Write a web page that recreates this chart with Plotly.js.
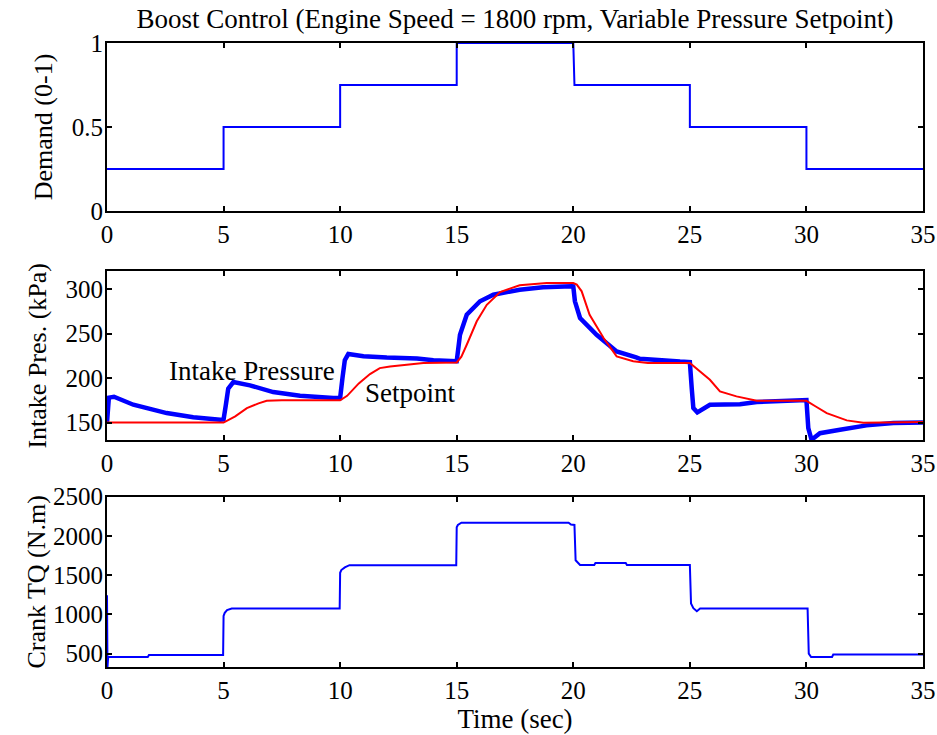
<!DOCTYPE html>
<html>
<head>
<meta charset="utf-8">
<script src="https://cdn.plot.ly/plotly-3.0.1.min.js"></script>
<style>
  html, body { margin: 0; padding: 0; background: #ffffff; }
  #chart { width: 937px; height: 735px; }
</style>
</head>
<body>
<div id="chart"></div>
<script>
// ---- Data ----
const chartTitle = "Boost Control (Engine Speed = 1800 rpm, Variable Pressure Setpoint)";
const xTicks = [0, 5, 10, 15, 20, 25, 30, 35];

// Panel 1: demand (0-1)
const demandTime  = [0, 5, 5, 10, 10, 15, 15, 20, 20.05, 25, 25, 30, 30, 35];
const demandValue = [0.25, 0.25, 0.5, 0.5, 0.75, 0.75, 1, 1, 0.75, 0.75, 0.5, 0.5, 0.25, 0.25];
const demandTicks = [0, 0.5, 1];
const demandTickText = ["0", "0.5", "1"];

// Panel 2: intake pressure (kPa)
const pressTime  = [0, 0.08, 0.3, 1.13, 2.56, 3.7, 4.85, 5.0, 5.1, 5.2, 5.42, 6.13, 7.13, 8.28, 9.71, 10.0, 10.1, 10.2, 10.35, 11.0, 12.0, 13.3, 14.0, 15.0, 15.14, 15.43, 16.0, 16.57, 17.7, 18.7, 19.93, 20.0, 20.07, 20.29, 21.0, 21.86, 22.7, 22.86, 24.58, 25.0, 25.08, 25.15, 25.32, 25.86, 27.15, 27.87, 30.0, 30.08, 30.22, 30.58, 31.44, 32.58, 33.73, 35.0];
const pressValue = [150, 178, 179, 170, 160.6, 156, 153, 153.5, 170, 188, 195.5, 191.8, 184.2, 180, 177.5, 177.5, 200, 220, 227, 224.5, 223, 222, 220, 219, 248.7, 271.2, 286.3, 293.7, 299.3, 302, 303.1, 303, 286.3, 267.5, 248.7, 230, 223.3, 221.7, 218.5, 218, 188.7, 166.2, 161.4, 170, 170.5, 173, 175.2, 143.7, 130.6, 138, 141.8, 146.8, 149.4, 150];
const setpointTime  = [0, 5.0, 5.5, 6.0, 6.5, 6.85, 7.5, 10.0, 10.3, 10.8, 11.28, 11.7, 12.14, 13.57, 15.0, 15.2, 15.43, 15.86, 16.29, 16.86, 17.7, 18.86, 20.0, 20.15, 20.36, 20.7, 21.3, 21.86, 22.57, 23.2, 25.0, 25.4, 25.86, 26.29, 27.0, 27.87, 30.0, 30.4, 30.87, 31.73, 32.44, 35.0];
const setpointValue = [150, 150, 157, 166.2, 171.5, 174.4, 175, 175, 180, 194, 204.5, 211.2, 213.1, 216.9, 217.5, 224, 237.4, 263.8, 282.4, 296.7, 304.3, 306.8, 306.8, 305, 297.5, 271.2, 245, 224.4, 218.8, 217, 216.8, 208, 198, 185, 179.4, 174.4, 174.4, 168, 160.6, 152.4, 149.8, 150.5];
const pressTicks = [150, 200, 250, 300];

// Panel 3: crank torque (N.m)
const torqueTime  = [0, 0.02, 0.05, 1.75, 1.8, 4.98, 5.0, 5.05, 5.15, 5.35, 9.98, 10.0, 10.05, 10.2, 10.4, 14.98, 15.0, 15.05, 15.2, 19.8, 19.9, 20.05, 20.1, 20.2, 20.29, 20.9, 20.95, 22.25, 22.3, 25.0, 25.05, 25.15, 25.3, 25.44, 30.05, 30.1, 30.2, 31.1, 31.15, 35];
const torqueValue = [1245, 330, 458, 458, 483, 483, 980, 1020, 1055, 1075, 1075, 1530, 1565, 1600, 1628, 1628, 2110, 2140, 2168, 2168, 2145, 2140, 1690, 1660, 1630, 1630, 1655, 1655, 1630, 1630, 1140, 1080, 1041, 1075, 1075, 501, 458, 458, 488, 488];
const torqueTicks = [500, 1000, 1500, 2000, 2500];

// ---- Styling ----
const FONT = "Liberation Serif, Times New Roman, serif";
const BLUE = "#0000ff";
const RED = "#ff0000";

function xAxis(anchor, withTitle) {
  const a = {
    anchor: anchor, domain: [0, 1], range: [0, 35],
    tickmode: "array", tickvals: xTicks,
    ticks: "inside", ticklen: 5, tickwidth: 2, tickcolor: "#000",
    showline: true, linewidth: 2, linecolor: "#000", mirror: "allticks",
    showgrid: false, zeroline: false,
    tickfont: {family: FONT, size: 25, color: "#000"}
  };
  if (withTitle) a.title = {text: "Time (sec)", font: {family: FONT, size: 27, color: "#000"}, standoff: 5};
  return a;
}
function yAxis(anchor, domain, range, ticks, text, title, standoff) {
  const a = {
    anchor: anchor, domain: domain, range: range,
    tickmode: "array", tickvals: ticks,
    ticks: "inside", ticklen: 5, tickwidth: 2, tickcolor: "#000",
    showline: true, linewidth: 2, linecolor: "#000", mirror: "allticks",
    showgrid: false, zeroline: false, ticklabelstandoff: -3,
    tickfont: {family: FONT, size: 25, color: "#000"},
    title: {text: title, font: {family: FONT, size: 26, color: "#000"}, standoff: standoff}
  };
  if (text) a.ticktext = text;
  return a;
}

const traces = [
  {x: demandTime, y: demandValue, xaxis: "x", yaxis: "y", mode: "lines",
   line: {color: BLUE, width: 2}, cliponaxis: false, showlegend: false},
  {x: pressTime, y: pressValue, xaxis: "x2", yaxis: "y2", mode: "lines",
   line: {color: BLUE, width: 4.5}, showlegend: false},
  {x: setpointTime, y: setpointValue, xaxis: "x2", yaxis: "y2", mode: "lines",
   line: {color: RED, width: 2}, showlegend: false},
  {x: torqueTime, y: torqueValue, xaxis: "x3", yaxis: "y3", mode: "lines",
   line: {color: BLUE, width: 2}, showlegend: false}
];

const layout = {
  width: 937, height: 735,
  margin: {l: 107, r: 14, t: 43, b: 68},
  paper_bgcolor: "#ffffff", plot_bgcolor: "#ffffff",
  showlegend: false,
  font: {family: FONT, size: 25, color: "#000"},
  title: {text: chartTitle, font: {family: FONT, size: 27, color: "#000"},
          x: 0.5, xref: "paper", y: 1 - 19/735, yref: "container", yanchor: "middle"},
  xaxis: xAxis("y", false),
  xaxis2: xAxis("y2", false),
  xaxis3: xAxis("y3", true),
  yaxis: yAxis("x", [0.7308, 1], [0, 1], demandTicks, demandTickText, "Demand (0-1)", 12),
  yaxis2: yAxis("x2", [0.3633, 0.6341], [130, 320], pressTicks, null, "Intake Pres. (kPa)", 11),
  yaxis3: yAxis("x3", [0, 0.2729], [330, 2500], torqueTicks, null, "Crank TQ (N.m)", 0),
  annotations: [
    {xref: "x2", yref: "y2", x: 6.22, y: 208, text: "Intake Pressure", showarrow: false,
     font: {family: FONT, size: 27, color: "#000"}},
    {xref: "x2", yref: "y2", x: 13.0, y: 183, text: "Setpoint", showarrow: false,
     font: {family: FONT, size: 27, color: "#000"}}
  ]
};

Plotly.newPlot("chart", traces, layout, {displayModeBar: false, staticPlot: true});
</script>
</body>
</html>
